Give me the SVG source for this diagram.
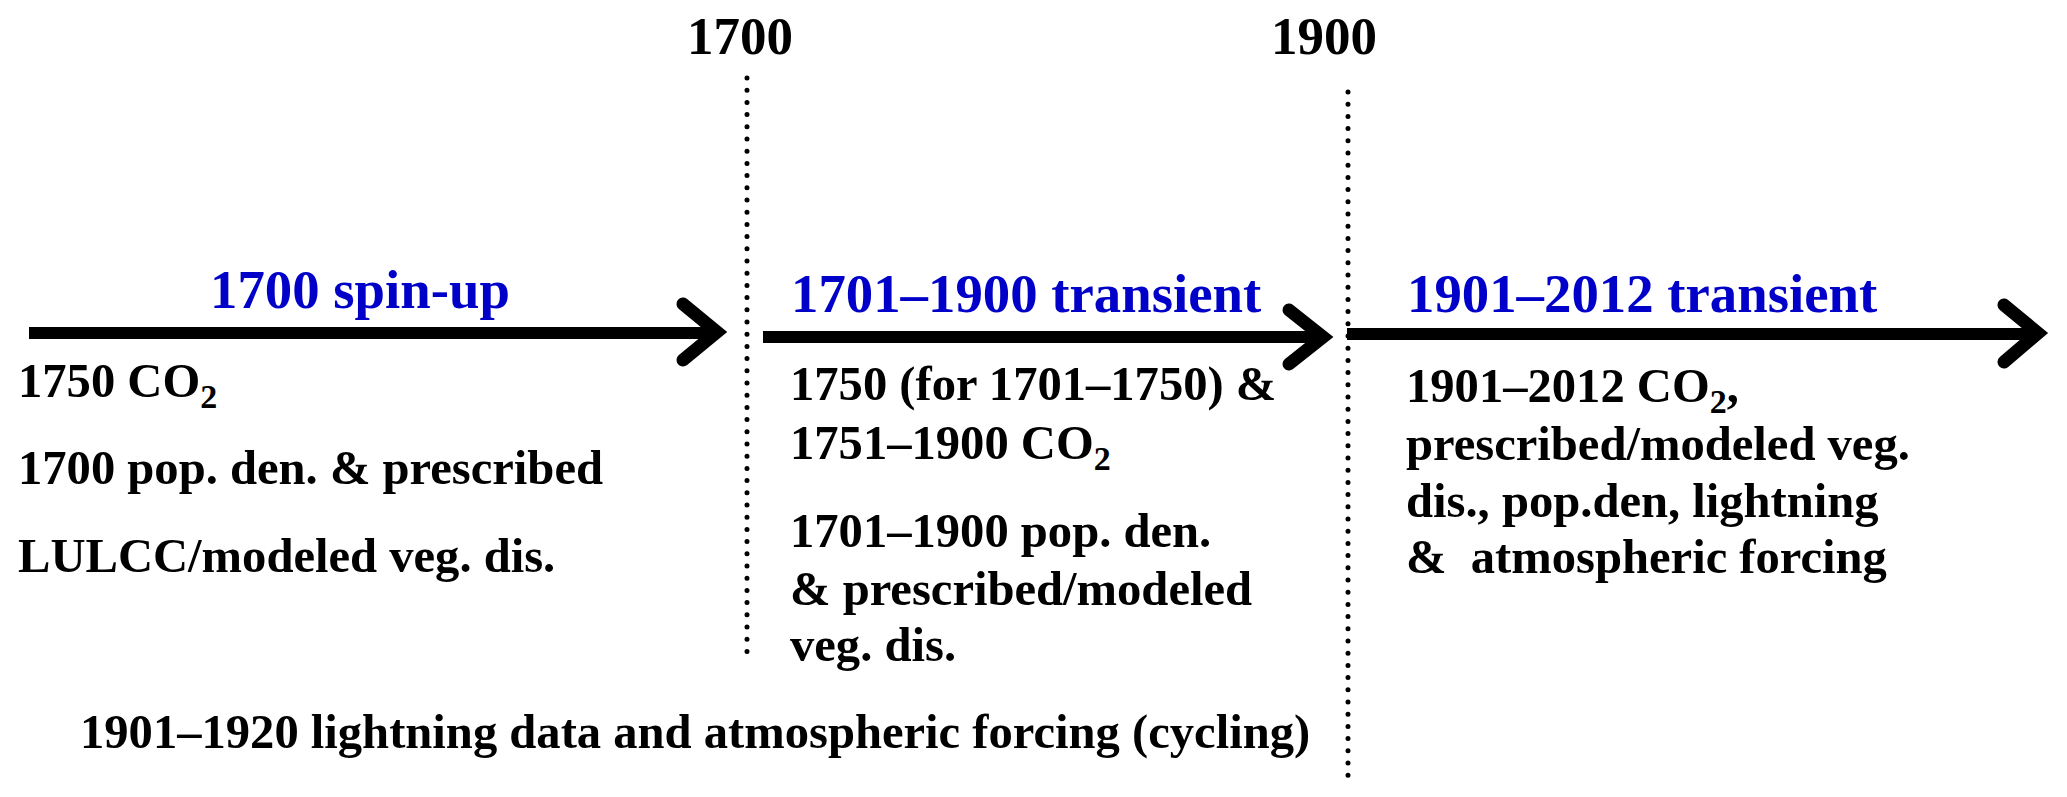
<svg xmlns="http://www.w3.org/2000/svg" width="2067" height="797" viewBox="0 0 2067 797">
  <style>
    text { font-family: "Liberation Serif", "Times New Roman", serif; font-weight: bold; }
    .blk { fill: #000; font-size: 48.6px; }
    .yr { fill: #000; font-size: 53px; }
    .blue { fill: #0000C8; font-size: 54.8px; }
    .sub { font-size: 34px; }
    .shaft { stroke: #000; stroke-width: 12; fill: none; stroke-linecap: butt; }
    .head { stroke: #000; stroke-width: 13; fill: none; stroke-linecap: round; stroke-linejoin: miter; stroke-miterlimit: 10; }
    .dots { stroke: #000; stroke-width: 5; fill: none; stroke-linecap: round; stroke-dasharray: 0 12.2; }
  </style>
  <rect width="2067" height="797" fill="#fff"/>

  <g id="connectors">
    <line class="dots" x1="747" y1="78" x2="747" y2="654"/>
    <line class="dots" x1="1348" y1="92" x2="1348" y2="778"/>
    <line class="shaft" x1="29" y1="333" x2="719" y2="333"/>
    <polyline class="head" points="683,304 717,332 683,360"/>
    <line class="shaft" x1="763" y1="337" x2="1324" y2="337"/>
    <polyline class="head" points="1289,310 1323,337 1289,364"/>
    <line class="shaft" x1="1347" y1="334" x2="2039" y2="334"/>
    <polyline class="head" points="2004,305 2038,333 2004,362"/>
  </g>

  <g id="label-1700">
    <text class="yr" x="687" y="54">1700</text>
  </g>
  <g id="label-1900">
    <text class="yr" x="1271" y="54">1900</text>
  </g>

  <g id="stage-spinup">
    <text class="blue" x="210" y="308">1700 spin-up</text>
    <text class="blk" x="18" y="397">1750 CO<tspan class="sub" dy="11">2</tspan></text>
    <text class="blk" x="18" y="484">1700 pop. den. &amp; prescribed</text>
    <text class="blk" x="18" y="572">LULCC/modeled veg. dis.</text>
  </g>

  <g id="stage-1701-1900">
    <text class="blue" x="791" y="312">1701–1900 transient</text>
    <text class="blk" x="790" y="400">1750 (for 1701–1750) &amp;</text>
    <text class="blk" x="790" y="459">1751–1900 CO<tspan class="sub" dy="11">2</tspan></text>
    <text class="blk" x="790" y="547">1701–1900 pop. den.</text>
    <text class="blk" x="790" y="605">&amp; prescribed/modeled</text>
    <text class="blk" x="790" y="661">veg. dis.</text>
  </g>

  <g id="stage-1901-2012">
    <text class="blue" x="1407" y="312">1901–2012 transient</text>
    <text class="blk" x="1406" y="402">1901–2012 CO<tspan class="sub" dy="11">2</tspan><tspan dy="-11">,</tspan></text>
    <text class="blk" x="1406" y="460">prescribed/modeled veg.</text>
    <text class="blk" x="1406" y="517">dis., pop.den, lightning</text>
    <text class="blk" x="1406" y="573" xml:space="preserve">&amp;  atmospheric forcing</text>
  </g>

  <g id="note-cycling">
    <text class="blk" x="80" y="748">1901–1920 lightning data and atmospheric forcing (cycling)</text>
  </g>
</svg>
